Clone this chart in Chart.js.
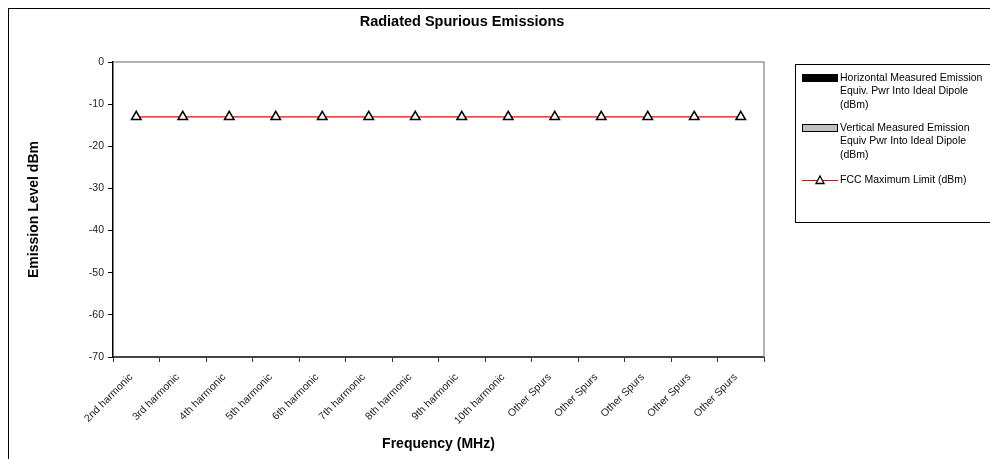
<!DOCTYPE html>
<html>
<head>
<meta charset="utf-8">
<script src="https://cdn.jsdelivr.net/npm/chart.js@4.4.1/dist/chart.umd.min.js"></script>
<style>
  html, body { margin: 0; padding: 0; background: #fff; }
  #wrap { width: 990px; height: 459px; position: relative; }
</style>
</head>
<body>
<div id="wrap"><canvas id="chart"></canvas></div>
<script>
// categories along the x axis
var categories = ['2nd harmonic', '3rd harmonic', '4th harmonic', '5th harmonic', '6th harmonic',
    '7th harmonic', '8th harmonic', '9th harmonic', '10th harmonic',
    'Other Spurs', 'Other Spurs', 'Other Spurs', 'Other Spurs', 'Other Spurs'];

// measured emissions (no values were plotted)
var horizontalDbm = [null, null, null, null, null, null, null, null, null, null, null, null, null, null];
var verticalDbm = [null, null, null, null, null, null, null, null, null, null, null, null, null, null];

// FCC limit
var fccLimitDbm = [-13, -13, -13, -13, -13, -13, -13, -13, -13, -13, -13, -13, -13, -13];

var yMin = -70, yMax = 0, yStep = 10;

var FONT = 'Arial, "Liberation Sans", sans-serif';

// frame, plot border, title and the legend box
var decorPlugin = {
    id: 'decor',
    beforeDraw: function (chart) {
        var ctx = chart.ctx;
        ctx.save();
        ctx.fillStyle = '#fff';
        ctx.fillRect(0, 0, chart.width, chart.height);
        ctx.strokeStyle = '#000';
        ctx.lineWidth = 1;
        ctx.strokeRect(8.5, 8.5, 1000, 500);
        ctx.restore();
    },
    afterDraw: function (chart) {
        var ctx = chart.ctx;
        var a = chart.chartArea;
        ctx.save();
        // gray top/right edge of plot
        ctx.strokeStyle = '#999';
        ctx.lineWidth = 1.5;
        ctx.beginPath();
        ctx.moveTo(a.left, a.top);
        ctx.lineTo(a.right, a.top);
        ctx.lineTo(a.right, a.bottom);
        ctx.stroke();

        // title
        ctx.fillStyle = '#000';
        ctx.font = 'bold 14.5px ' + FONT;
        ctx.textAlign = 'center';
        ctx.textBaseline = 'middle';
        ctx.fillText('Radiated Spurious Emissions', 462, 22);

        // legend
        ctx.strokeStyle = '#000';
        ctx.lineWidth = 1;
        ctx.strokeRect(795.5, 64.5, 300, 158);
        ctx.font = '10.5px ' + FONT;
        ctx.textAlign = 'left';
        var rows = [78, 128, 180];
        chart.data.datasets.forEach(function (ds, i) {
            var y = rows[i];
            if (ds.type === 'line') {
                ctx.strokeStyle = ds.borderColor;
                ctx.lineWidth = 1;
                ctx.beginPath();
                ctx.moveTo(802, y + 0.5);
                ctx.lineTo(838, y + 0.5);
                ctx.stroke();
                ctx.fillStyle = '#fff';
                ctx.strokeStyle = '#000';
                ctx.lineWidth = 1.3;
                ctx.beginPath();
                ctx.moveTo(820, y - 4);
                ctx.lineTo(824, y + 3.5);
                ctx.lineTo(816, y + 3.5);
                ctx.closePath();
                ctx.fill();
                ctx.stroke();
            } else {
                ctx.fillStyle = ds.backgroundColor;
                ctx.fillRect(802, y - 4, 36, 8);
                ctx.strokeStyle = '#000';
                ctx.lineWidth = 1;
                ctx.strokeRect(802.5, y - 3.5, 35, 7);
            }
            ctx.fillStyle = '#000';
            ds.label.split('\n').forEach(function (line, j) {
                ctx.fillText(line, 840, y + j * 13.5);
            });
        });
        ctx.restore();
    }
};

var chart = new Chart(document.getElementById('chart'), {
    type: 'bar',
    data: {
        labels: categories,
        datasets: [{
            label: 'Horizontal Measured Emission\nEquiv. Pwr Into Ideal Dipole\n(dBm)',
            data: horizontalDbm,
            backgroundColor: '#000',
            borderColor: '#000',
            borderWidth: 1
        }, {
            label: 'Vertical Measured Emission\nEquiv Pwr Into Ideal Dipole\n(dBm)',
            data: verticalDbm,
            backgroundColor: '#c0c0c0',
            borderColor: '#000',
            borderWidth: 1
        }, {
            type: 'line',
            label: 'FCC Maximum Limit (dBm)',
            data: fccLimitDbm,
            borderColor: '#ff0000',
            borderWidth: 1.2,
            pointStyle: 'triangle',
            pointRadius: 5.5,
            pointBackgroundColor: '#fff',
            pointBorderColor: '#000',
            pointBorderWidth: 1.5,
            fill: false
        }]
    },
    options: {
        responsive: true,
        maintainAspectRatio: false,
        animation: false,
        devicePixelRatio: 1,
        layout: { padding: { left: 22, top: 62, right: 226, bottom: 3 } },
        plugins: {
            legend: { display: false },
            title: { display: false },
            tooltip: { enabled: false }
        },
        scales: {
            x: {
                offset: true,
                grid: { offset: true, drawOnChartArea: false, drawTicks: true, tickLength: 5, color: '#333' },
                border: { color: '#444', width: 2 },
                ticks: {
                    color: '#222',
                    font: { family: FONT, size: 10.5 },
                    maxRotation: 45,
                    minRotation: 45,
                    autoSkip: false,
                    padding: 9,
                    labelOffset: -5
                },
                title: {
                    display: true,
                    text: 'Frequency (MHz)',
                    color: '#000',
                    font: { family: FONT, size: 14, weight: 'bold' },
                    padding: { top: 4, bottom: 3 }
                },
                afterFit: function (s) { s.height = 99; }
            },
            y: {
                min: yMin,
                max: yMax,
                ticks: {
                    stepSize: yStep,
                    color: '#222',
                    font: { family: FONT, size: 10.5 },
                    padding: 4
                },
                grid: { drawOnChartArea: false, drawTicks: true, tickLength: 5, color: '#000' },
                border: { color: '#000', width: 1.5 },
                title: {
                    display: true,
                    text: 'Emission Level dBm',
                    color: '#000',
                    font: { family: FONT, size: 14, weight: 'bold' },
                    padding: 4
                },
                afterFit: function (s) { s.width = 91; }
            }
        }
    },
    plugins: [decorPlugin]
});
</script>
</body>
</html>
